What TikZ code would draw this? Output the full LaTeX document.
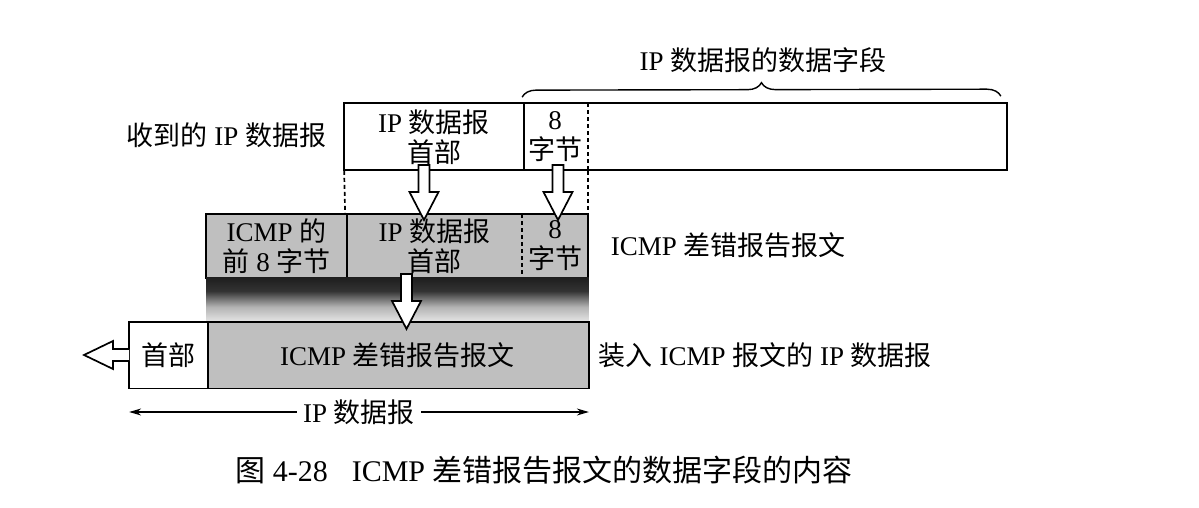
\documentclass[tikz,border=0pt]{standalone}
\usepackage{fontspec}
\setmainfont{Liberation Serif}
\newfontfamily\cjk{Noto Sans CJK SC}
\newcommand{\zh}[1]{{\cjk #1}}
\usetikzlibrary{positioning,calc,decorations.pathreplacing,arrows.meta}
\pgfdeclareverticalshading{shadowfade}{100bp}{color(0bp)=(black!10); color(25bp)=(black!10); color(42bp)=(black!30); color(60bp)=(black!80); color(75bp)=(black!88); color(100bp)=(black!88)}
% hollow block arrow pointing down: x, top, tip
\newcommand{\downblock}[3]{%
  \draw[fatarrow] (#1-5.5,#2) -- (#1+5.5,#2) -- (#1+5.5,#3-28) -- (#1+14.5,#3-28)
    -- (#1,#3) -- (#1-14.5,#3-28) -- (#1-5.5,#3-28) -- cycle;}

\begin{document}
\begin{tikzpicture}[
        x=0.5pt, y=-0.5pt,
        line width=0.85pt,
        font=\fontsize{13.5}{14}\selectfont,
        cell/.style={inner sep=0pt, minimum height=33pt, align=center, font=\fontsize{13.5}{15}\selectfont},
        graycell/.style={cell, fill=black!25, minimum height=31pt},
        lowcell/.style={cell, minimum height=32.5pt},
        sidetext/.style={inner sep=0pt, anchor=west},
        split/.style={dashed, dash pattern=on 2pt off 1.5pt},
        fatarrow/.style={draw, fill=white, line join=miter}
    ]
        \useasboundingbox (0,0) rectangle (1199,508);

        % Received IP datagram
        \node[cell, minimum width=89pt] (rhdr) at (434,137) {IP \zh{数据报}\\\zh{首部}};
        \node[cell, minimum width=32pt] (rb8) at (555,137) {8\\\zh{字节}};
        \node[cell, minimum width=209.5pt] (rdata) at (796.5,136) {};
        \draw (rhdr.north west) rectangle (rdata.south east);
        \draw (rhdr.north east) -- (rhdr.south east);
        \draw[split] (rb8.north east) -- (rb8.south east);
        \node[inner sep=0pt, anchor=east] (rcvtxt) at (327,135) {\zh{收到的} IP \zh{数据报}};

        % Data field brace
        \draw[line width=0.7pt, decorate, decoration={brace, amplitude=7pt}]
            ($(rb8.north west)+(0,-6)$) -- ($(rdata.north east)+(-6,-6)$);
        \node (fieldtxt) at (763,60) {IP \zh{数据报的数据字段}};

        % ICMP error message
        \node[graycell, minimum width=69.5pt] (micmp) at (276.5,246) {ICMP \zh{的}\\\zh{前} 8 \zh{字节}};
        \node[graycell, minimum width=88.5pt] (mhdr) at (434.5,246) {IP \zh{数据报}\\\zh{首部}};
        \node[graycell, minimum width=32pt] (mb8) at (555,246) {8\\\zh{字节}};
        \draw (micmp.north west) rectangle (mb8.south east);
        \draw (micmp.north east) -- (micmp.south east);
        \draw[split] (mb8.north west) -- (mb8.south west);
        \node[sidetext] (icmptxt) at (610,245) {ICMP \zh{差错报告报文}};

        \draw[split] (rhdr.south west) -- (mhdr.north west);
        \draw[split] (rb8.south east) -- (mb8.north east);

        % IP datagram carrying the ICMP message
        \node[lowcell, minimum width=38.5pt] (bhdr) at (168.5,355) {\zh{首部}};
        \node[lowcell, fill=black!25, minimum width=190.5pt] (bicmp) at (397.5,355) {ICMP \zh{差错报告报文}};
        \shade[shading=shadowfade] (micmp.south west) rectangle (bicmp.north east);
        \draw (bhdr.north west) rectangle (bicmp.south east);
        \draw (bhdr.north east) -- (bhdr.south east);
        \node[sidetext] (pkttxt) at (598,355) {\zh{装入} ICMP \zh{报文的} IP \zh{数据报}};

        % Length of the IP datagram
        \coordinate (lenL) at (bhdr.south west |- 0,412);
        \coordinate (lenR) at (bicmp.south east |- 0,412);
        \draw[line width=0.6pt, {Stealth[length=6pt, width=3.5pt]}-{Stealth[length=6pt, width=3.5pt]}] (lenL) -- node[fill=white, inner xsep=3pt] (lentxt) {IP \zh{数据报}} (lenR);

        % Block arrows
        \downblock{424}{165}{220}
        \downblock{558}{165}{220}
        \downblock{406.5}{274}{329}
        \draw[fatarrow] (bhdr.west |- 0,349) -- (113,349) -- (113,341) -- (84,355) -- (113,369) -- (113,361) -- (bhdr.west |- 0,361);

        % Caption
        \node[font=\fontsize{15}{16}\selectfont] (caption) at (544,470) {\zh{图} 4-28\hspace{12pt}ICMP \zh{差错报告报文的数据字段的内容}};
    \end{tikzpicture}
\end{document}
